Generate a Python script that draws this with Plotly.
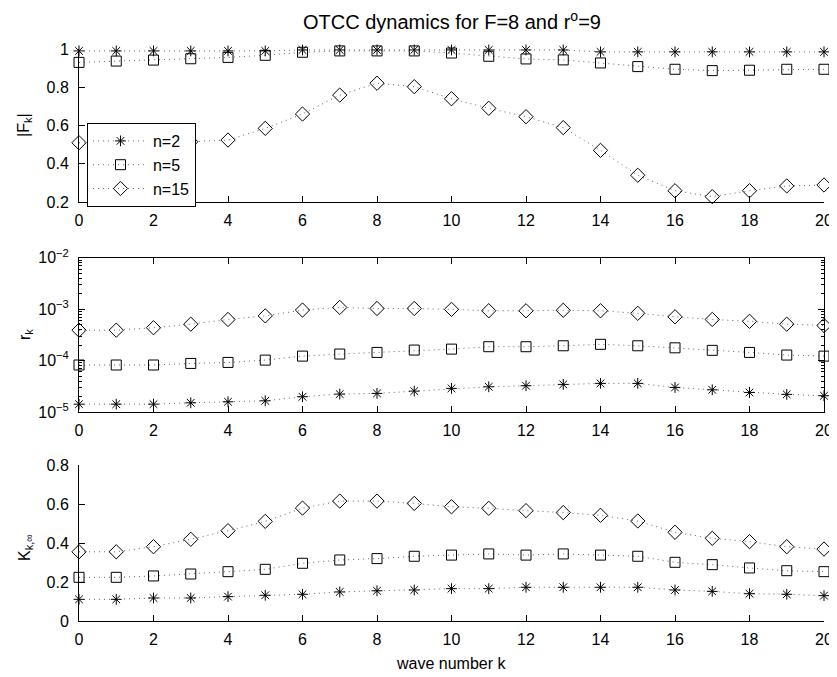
import plotly.graph_objects as go

k = list(range(21))

F_n2 = [0.99, 0.99, 0.99, 0.99, 0.99, 0.99, 0.995, 0.995, 0.995, 0.995, 0.995, 0.995, 0.995, 0.995,
        0.985, 0.985, 0.985, 0.985, 0.985, 0.985, 0.985]
F_n5 = [0.930, 0.937, 0.942, 0.949, 0.956, 0.967, 0.983, 0.990, 0.990, 0.990, 0.979, 0.962, 0.948,
        0.943, 0.927, 0.908, 0.894, 0.887, 0.889, 0.894, 0.894]
F_n15 = [0.510, 0.505, 0.510, 0.515, 0.524, 0.585, 0.660, 0.759, 0.821, 0.803, 0.740, 0.690, 0.646,
         0.589, 0.470, 0.340, 0.259, 0.228, 0.259, 0.284, 0.289]

r_n2 = [1.42e-5, 1.42e-5, 1.42e-5, 1.51e-5, 1.58e-5, 1.65e-5, 1.98e-5, 2.23e-5, 2.30e-5, 2.55e-5,
        2.88e-5, 3.09e-5, 3.24e-5, 3.44e-5, 3.60e-5, 3.60e-5, 3.00e-5, 2.70e-5, 2.40e-5, 2.20e-5, 2.07e-5]
r_n5 = [8.2e-5, 8.2e-5, 8.2e-5, 8.8e-5, 9.2e-5, 1.02e-4, 1.22e-4, 1.34e-4, 1.44e-4, 1.60e-4,
        1.67e-4, 1.86e-4, 1.86e-4, 1.94e-4, 2.07e-4, 1.94e-4, 1.77e-4, 1.58e-4, 1.44e-4, 1.28e-4, 1.22e-4]
r_n15 = [3.9e-4, 3.9e-4, 4.35e-4, 5.1e-4, 6.3e-4, 7.4e-4, 9.6e-4, 1.08e-3, 1.03e-3, 1.03e-3,
         9.9e-4, 9.3e-4, 9.3e-4, 9.5e-4, 9.3e-4, 8.3e-4, 7.1e-4, 6.3e-4, 5.8e-4, 5.1e-4, 4.8e-4]

K_n2 = [0.111, 0.111, 0.118, 0.118, 0.125, 0.132, 0.137, 0.149, 0.155, 0.159, 0.166, 0.166, 0.173,
        0.173, 0.173, 0.173, 0.159, 0.152, 0.140, 0.137, 0.130]
K_n5 = [0.224, 0.224, 0.231, 0.241, 0.253, 0.265, 0.296, 0.313, 0.320, 0.332, 0.338, 0.344, 0.338,
        0.344, 0.338, 0.332, 0.301, 0.289, 0.272, 0.258, 0.253]
K_n15 = [0.355, 0.355, 0.381, 0.419, 0.463, 0.511, 0.579, 0.615, 0.615, 0.603, 0.586, 0.578, 0.566,
         0.556, 0.542, 0.513, 0.455, 0.424, 0.407, 0.381, 0.369]

series_names = ["n=2", "n=5", "n=15"]
symbols = ["asterisk-open", "square-open", "diamond-open"]
sizes = [9, 10, 11]

x_ticks = list(range(0, 21, 2))
F_ticks = [0.2, 0.4, 0.6, 0.8, 1]
r_ticks = [1e-5, 1e-4, 1e-3, 1e-2]
r_ticktext = ["10<sup>\u22125</sup>", "10<sup>\u22124</sup>", "10<sup>\u22123</sup>", "10<sup>\u22122</sup>"]
K_ticks = [0, 0.2, 0.4, 0.6, 0.8]

panels = [
    ([F_n2, F_n5, F_n15], "x", "y"),
    ([r_n2, r_n5, r_n15], "x2", "y2"),
    ([K_n2, K_n5, K_n15], "x3", "y3"),
]

fig = go.Figure()
for pi, (data, xa, ya) in enumerate(panels):
    for si, vals in enumerate(data):
        fig.add_trace(go.Scatter(
            x=k, y=vals, xaxis=xa, yaxis=ya, mode="lines+markers",
            name=series_names[si], showlegend=(pi == 0),
            line=dict(color="#666666", width=1, dash="1px,4px"),
            marker=dict(symbol=symbols[si], size=sizes[si], color="black",
                        line=dict(color="black", width=1)),
            cliponaxis=False,
        ))

FONT = "Liberation Sans, Arial, sans-serif"
FS = 16
common_x = dict(range=[0, 20], tickmode="array", tickvals=x_ticks, ticks="inside",
                ticklen=6, tickcolor="black", showline=True, linecolor="black",
                linewidth=1, showgrid=False, zeroline=False, automargin=False,
                ticklabelstandoff=4,
                tickfont=dict(size=FS, color="black", family=FONT))
common_y = dict(ticks="inside", ticklen=6, tickcolor="black", showline=True,
                linecolor="black", linewidth=1, showgrid=False, zeroline=False,
                automargin=False, ticklabelstandoff=6,
                tickfont=dict(size=FS, color="black", family=FONT))

minor_vals = []
for e in [-5, -4, -3]:
    for m in range(2, 10):
        minor_vals.append(m * 10 ** e)

# page body has an 8px margin: figure is sized/offset to compensate
W, H = 829, 669

fig.update_layout(
    width=W, height=H,
    margin=dict(l=71, r=13, t=41, b=56),
    paper_bgcolor="white", plot_bgcolor="white",
    font=dict(family=FONT, size=FS, color="black"),
    title=dict(text="OTCC dynamics for F=8 and r<sup>o</sup>=9", x=(452 - 8) / W, xanchor="center",
               y=1 - 14 / H, yanchor="middle", font=dict(size=20, family=FONT, color="black")),
    xaxis=dict(domain=[0, 1], anchor="y", **common_x),
    yaxis=dict(domain=[0.7325, 1], anchor="x", range=[0.2, 1], tickmode="array",
               tickvals=F_ticks, tickformat="~g", **common_y),
    xaxis2=dict(domain=[0, 1], anchor="y2", mirror="ticks", **common_x),
    yaxis2=dict(domain=[0.3654, 0.6351], anchor="x2", type="log", range=[-5, -2],
                tickmode="array", tickvals=r_ticks, ticktext=r_ticktext,
                mirror="ticks",
                minor=dict(tickmode="array", tickvals=minor_vals, ticks="inside",
                           ticklen=3, tickcolor="black", showgrid=False),
                **common_y),
    xaxis3=dict(domain=[0, 1], anchor="y3", **common_x),
    yaxis3=dict(domain=[0, 0.2727], anchor="x3", range=[0, 0.8], tickmode="array",
                tickvals=K_ticks, tickformat="~g", **common_y),
    legend=dict(x=0.0107, y=(621 - 123) / 572, xanchor="left", yanchor="top",
                bgcolor="white", bordercolor="black", borderwidth=1,
                font=dict(size=FS, family=FONT, color="black"),
                itemwidth=55, tracegroupgap=0),
    annotations=[
        dict(text="|F<sub>k</sub>|", xref="paper", yref="paper", x=(24 - 79) / 745,
             y=(621 - 125) / 572, xanchor="center", yanchor="middle", textangle=-90,
             showarrow=False, font=dict(size=FS, family=FONT, color="black")),
        dict(text="r<sub>k</sub>", xref="paper", yref="paper", x=(25 - 79) / 745,
             y=(621 - 335) / 572, xanchor="center", yanchor="middle", textangle=-90,
             showarrow=False, font=dict(size=FS, family=FONT, color="black")),
        dict(text="K<sub>k,\u221e</sub>", xref="paper", yref="paper", x=(25 - 79) / 745,
             y=(621 - 548) / 572, xanchor="center", yanchor="middle", textangle=-90,
             showarrow=False, font=dict(size=FS, family=FONT, color="black")),
        dict(text="wave number k", xref="paper", yref="paper", x=(451 - 79) / 745,
             y=(621 - 663) / 572, xanchor="center", yanchor="middle",
             showarrow=False, font=dict(size=FS, family=FONT, color="black")),
    ],
)

fig.write_html("out.html")
